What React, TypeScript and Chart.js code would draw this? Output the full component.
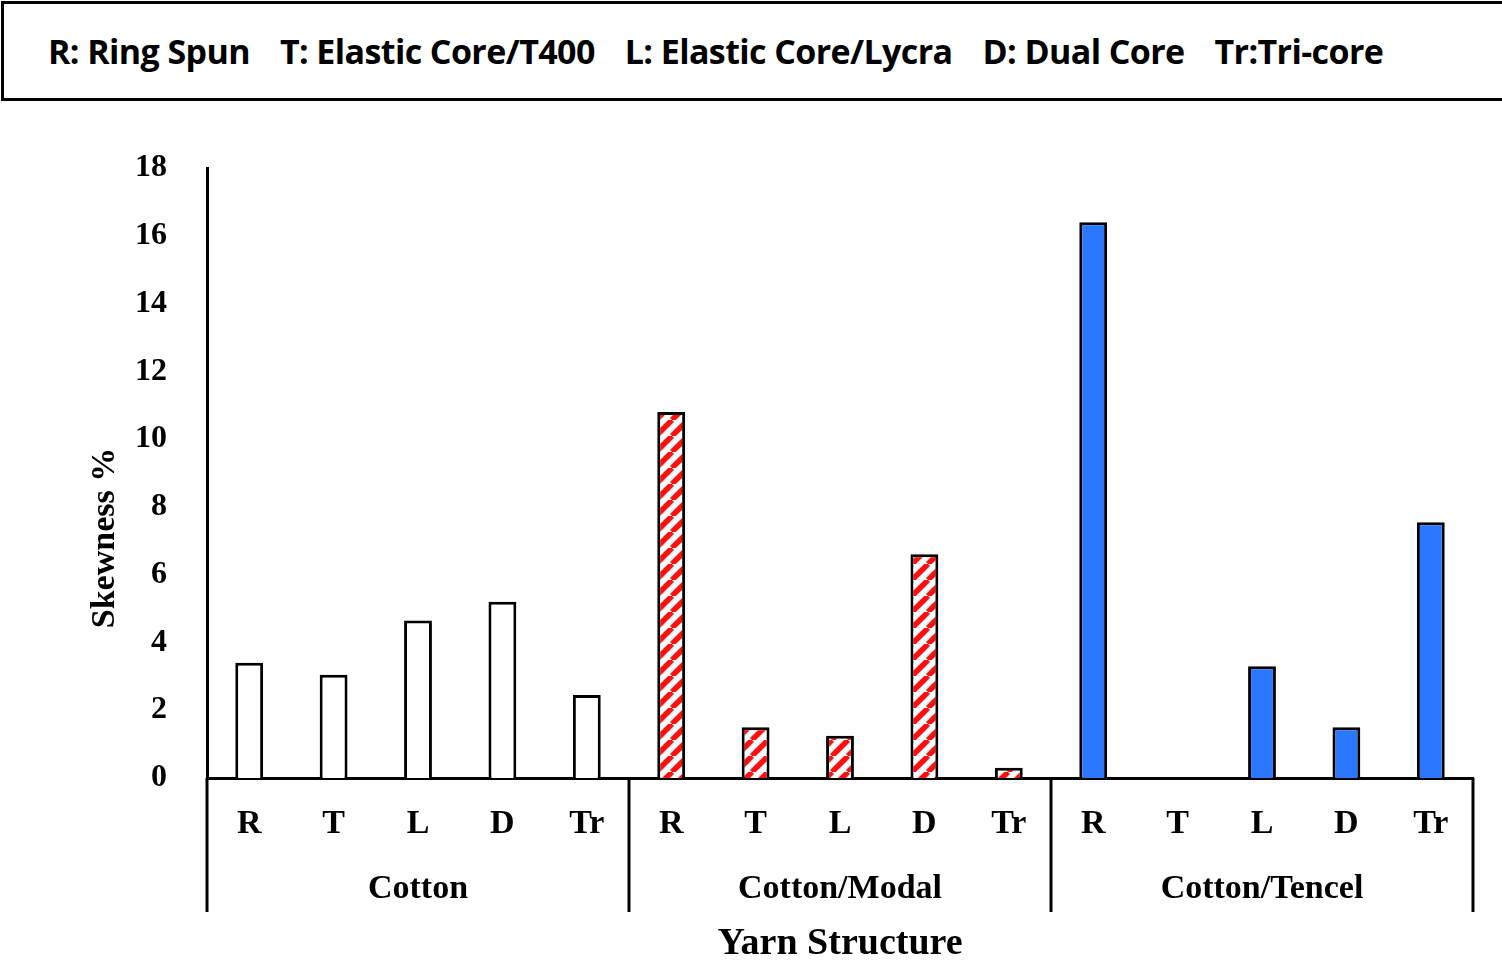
import React, { useEffect, useRef } from "react";
import { Chart, registerables } from "chart.js";
Chart.register(...registerables);

const structures = ["R", "T", "L", "D", "Tr"];
const groups = ["Cotton", "Cotton/Modal", "Cotton/Tencel"];
const cotton = [3.4, 3.05, 4.65, 5.2, 2.45];
const modal = [10.8, 1.5, 1.25, 6.6, 0.3];
const tencel = [16.4, 0, 3.3, 1.5, 7.55];
const yTicks = [0, 2, 4, 6, 8, 10, 12, 14, 16, 18];
const legendText = ["R: Ring Spun", "T: Elastic Core/T400", "L: Elastic Core/Lycra", "D: Dual Core", "Tr:Tri-core"];

function stripe(): CanvasPattern | string {
  const c = document.createElement("canvas");
  c.width = 16; c.height = 16;
  const g = c.getContext("2d")!;
  g.fillStyle = "#fff"; g.fillRect(0, 0, 16, 16);
  g.strokeStyle = "#ff1010"; g.lineWidth = 5.5;
  for (const o of [-16, 0, 16]) {
    g.beginPath(); g.moveTo(o, 16); g.lineTo(o + 16, 0); g.stroke();
  }
  return g.createPattern(c, "repeat") || "red";
}

export default function App() {
  const ref = useRef<HTMLCanvasElement>(null);
  useEffect(() => {
    const labels = [...structures, ...structures, ...structures];
    const data = [...cotton, ...modal, ...tencel];
    const pat = stripe();
    const bg = data.map((_, i) => (i < 5 ? "#ffffff" : i < 10 ? pat : "#2a78ff"));
    const serif = "'Liberation Serif', 'Times New Roman', serif";
    const groupPlugin = {
      id: "groups",
      afterDraw(chart: any) {
        const ctx = chart.ctx;
        const x = chart.scales.x;
        const { top, bottom, left, right } = chart.chartArea;
        const step = x.getPixelForValue(1) - x.getPixelForValue(0);
        ctx.save();
        ctx.strokeStyle = "#000"; ctx.lineWidth = 3;
        for (let g = 0; g <= 3; g++) {
          const px = x.getPixelForValue(g * 5) - step / 2;
          ctx.beginPath(); ctx.moveTo(px, bottom); ctx.lineTo(px, bottom + 134); ctx.stroke();
        }
        ctx.fillStyle = "#000";
        ctx.font = `bold 34px ${serif}`;
        ctx.textAlign = "center"; ctx.textBaseline = "middle";
        groups.forEach((name, g) => {
          ctx.fillText(name, x.getPixelForValue(g * 5 + 2), bottom + 111);
        });
        ctx.font = `bold 38px ${serif}`;
        ctx.fillText("Yarn Structure", (left + right) / 2, bottom + 166);
        ctx.translate(105, (top + bottom) / 2 + 65);
        ctx.rotate(-Math.PI / 2);
        ctx.font = `bold 34px ${serif}`;
        ctx.fillText("Skewness %", 0, 0);
        ctx.restore();
      },
    };
    const chart = new Chart(ref.current!, {
      type: "bar",
      data: {
        labels,
        datasets: [{ data, backgroundColor: bg as any, borderColor: "#000", borderWidth: 3, barPercentage: 0.33, categoryPercentage: 1 }],
      },
      options: {
        animation: false,
        responsive: false,
        layout: { padding: { top: 68, right: 29, left: 0, bottom: 0 } },
        plugins: { legend: { display: false }, tooltip: { enabled: false } },
        scales: {
          x: {
            grid: { display: false },
            border: { display: true, color: "#000", width: 3 },
            ticks: { color: "#000", font: { family: serif, size: 34, weight: "bold" }, padding: 18, maxRotation: 0, autoSkip: false },
            afterFit: (s: any) => { s.height = 190; },
          },
          y: {
            min: 0, max: 18,
            afterBuildTicks: (s: any) => { s.ticks = yTicks.map((v) => ({ value: v })); },
            grid: { display: false },
            border: { display: true, color: "#000", width: 3 },
            ticks: { color: "#000", font: { family: serif, size: 32, weight: "bold" }, padding: 32 },
            afterFit: (s: any) => { s.width = 207; },
          },
        },
      },
      plugins: [groupPlugin],
    });
    return () => chart.destroy();
  }, []);
  return (
    <div style={{ position: "absolute", left: 0, top: 0, width: 1502, height: 968, background: "#fff" }}>
      <div style={{ position: "absolute", left: 1, top: 1, width: 1494, height: 94, border: "3px solid #000", display: "flex", alignItems: "center", paddingLeft: 44, gap: 30, fontFamily: "'Open Sans', sans-serif", fontWeight: 700, fontSize: 34, letterSpacing: -0.6, boxSizing: "content-box" }}>
        {legendText.map((t) => <span key={t}>{t}</span>)}
      </div>
      <canvas ref={ref} width={1502} height={868} style={{ position: "absolute", left: 0, top: 100 }} />
    </div>
  );
}
